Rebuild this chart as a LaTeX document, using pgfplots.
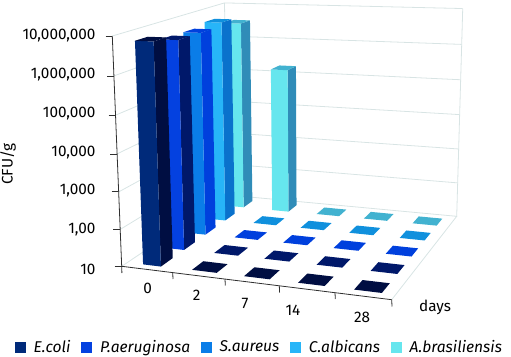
\documentclass[border=0pt]{standalone}
\usepackage{pgfplots}
\pgfplotsset{compat=1.18}
\usepackage{fontspec}
\setmainfont{Fira Sans}
\definecolor{ecF}{HTML}{002A7A}\definecolor{ecS}{HTML}{000E42}
\definecolor{paF}{HTML}{0441E0}\definecolor{paS}{HTML}{00186A}
\definecolor{saF}{HTML}{0A7DE8}\definecolor{saS}{HTML}{0040DD}
\definecolor{caF}{HTML}{27B5F8}\definecolor{caS}{HTML}{0A72CC}\definecolor{caT}{HTML}{1090DD}
\definecolor{abF}{HTML}{66E6EE}\definecolor{abS}{HTML}{308CB8}\definecolor{abT}{HTML}{42B2D0}
\definecolor{gridc}{HTML}{D8E4E4}\definecolor{axc}{HTML}{303030}
% one bar: day index, series index, CFU/g, front, side, top colours
\newcommand\cfubar[6]{%
 \addplot[fill=#5,draw=none,forget plot] table[row sep=\\,
   x expr={PX((#1+.5)/5+\thisrow{s}*.036,(#2+.5)/5-.005+\thisrow{t}*.05,\thisrow{c})},
   y expr={PY((#1+.5)/5+\thisrow{s}*.036,(#2+.5)/5-.005+\thisrow{t}*.05,\thisrow{c})}]
   {s t c\\ 1 -1 10\\ 1 1 10\\ 1 1 #3\\ 1 -1 #3\\};
 \addplot[fill=#4,draw=none,forget plot] table[row sep=\\,
   x expr={PX((#1+.5)/5+\thisrow{s}*.036,(#2+.5)/5-.005+\thisrow{t}*.05,\thisrow{c})},
   y expr={PY((#1+.5)/5+\thisrow{s}*.036,(#2+.5)/5-.005+\thisrow{t}*.05,\thisrow{c})}]
   {s t c\\ -1 -1 10\\ 1 -1 10\\ 1 -1 #3\\ -1 -1 #3\\};
 \addplot[fill=#6,draw=none,forget plot] table[row sep=\\,
   x expr={PX((#1+.5)/5+\thisrow{s}*.036,(#2+.5)/5-.005+\thisrow{t}*.05,\thisrow{c})},
   y expr={PY((#1+.5)/5+\thisrow{s}*.036,(#2+.5)/5-.005+\thisrow{t}*.05,\thisrow{c})}]
   {s t c\\ -1 -1 #3\\ 1 -1 #3\\ 1 1 #3\\ -1 1 #3\\};
}
% a bar at the floor value: its top alone, drawn a little larger
\newcommand\cfutile[4]{%
 \addplot[fill=#4,draw=none,forget plot] table[row sep=\\,
   x expr={PX((#1+.5)/5+.005+\thisrow{s}*.048,(#2+.5)/5+\thisrow{t}*.05,\thisrow{c})},
   y expr={PY((#1+.5)/5+.005+\thisrow{s}*.048,(#2+.5)/5+\thisrow{t}*.05,\thisrow{c})}]
   {s t c\\ -1 -1 #3\\ 1 -1 #3\\ 1 1 #3\\ -1 1 #3\\};
}
% wall/floor line
\newcommand\wline[2]{%
 \addplot[#1,forget plot] table[row sep=\\,
   x expr={PX(\thisrow{u},\thisrow{v},\thisrow{c})},
   y expr={PY(\thisrow{u},\thisrow{v},\thisrow{c})}] {u v c\\ #2};
}
\begin{document}
\begin{tikzpicture}[x=1pt,y=1pt]
\path[use as bounding box] (0,0) rectangle (511,356);
\begin{axis}[at={(0,0)},anchor=south west,
  width=511pt,height=356pt,scale only axis,
  xmin=0,xmax=511,ymin=0,ymax=356,y dir=reverse,
  hide axis,clip=false,
  declare function={
    WW(\u,\v,\c)=1-0.09227*\u+0.20681*\v-0.046*(log10(\c)-1)/6;
    PX(\u,\v,\c)=(233.86*\u+153.45*\v-14.57*(log10(\c)-1)/6+121.7)/WW(\u,\v,\c);
    PY(\u,\v,\c)=(5.75*\u-30.97*\v-231.96*(log10(\c)-1)/6+266.3)/WW(\u,\v,\c);
  },
  font=\fontsize{15.3}{17}\selectfont,
  legend style={at={(axis cs:14.7,347)},anchor=west,draw=none,fill=none,
    legend columns=5,font=\fontsize{15.6}{18}\selectfont\itshape,
    inner sep=0pt,outer sep=0pt,
    /tikz/every odd column/.append style={column sep=6pt},
    /tikz/every even column/.append style={column sep=8.6pt}},
  legend image code/.code={\fill[#1] (0pt,-5.5pt) rectangle (11pt,5.5pt);},
]
\addlegendimage{fill=ecF,draw=none}\addlegendentry{E.coli}
\addlegendimage{fill=paF,draw=none}\addlegendentry{P.aeruginosa}
\addlegendimage{fill=saF,draw=none}\addlegendentry{S.aureus}
\addlegendimage{fill=caF,draw=none}\addlegendentry{C.albicans}
\addlegendimage{fill=abF,draw=none}\addlegendentry{A.brasiliensis}

% walls
\foreach \c in {100,1000,10000,100000,1000000,10000000}{
  \edef\temp{\noexpand\wline{gridc,line width=.8pt}{0 0 \c\noexpand\\ 0 1 \c\noexpand\\ 1 1 \c\noexpand\\}}\temp
}
\wline{gridc,line width=.8pt}{0 0 10\\ 0 1 10\\ 1 1 10\\ 1 0 10\\}
\wline{gridc,line width=.8pt}{1 1 10\\ 1 1 10000000\\}
\wline{gridc,line width=.8pt}{0 1 10\\ 0 1 10000000\\}

% axes
\wline{axc,line width=.8pt}{0 0 10\\ 0 0 10000000\\}
\wline{axc,line width=.8pt}{0 0 10\\ 1 0 10\\}

% bars, back to front: day index, series index, value, colours
\cfutile{4}{4}{10}{abT}
\cfutile{3}{4}{10}{abT}
\cfutile{2}{4}{10}{abT}
\cfubar{1}{4}{175000}{abF}{abS}{abT}
\cfubar{0}{4}{3550000}{abF}{abS}{abT}
\cfutile{4}{3}{10}{caT}
\cfutile{3}{3}{10}{caT}
\cfutile{2}{3}{10}{caT}
\cfutile{1}{3}{10}{caT}
\cfubar{0}{3}{5800000}{caF}{caS}{caT}
\cfutile{4}{2}{10}{saS}
\cfutile{3}{2}{10}{saS}
\cfutile{2}{2}{10}{saS}
\cfutile{1}{2}{10}{saS}
\cfubar{0}{2}{4700000}{saF}{saS}{saS}
\cfutile{4}{1}{10}{paS}
\cfutile{3}{1}{10}{paS}
\cfutile{2}{1}{10}{paS}
\cfutile{1}{1}{10}{paS}
\cfubar{0}{1}{4800000}{paF}{paS}{paS}
\cfutile{4}{0}{10}{ecS}
\cfutile{3}{0}{10}{ecS}
\cfutile{2}{0}{10}{ecS}
\cfutile{1}{0}{10}{ecS}
\cfubar{0}{0}{7100000}{ecF}{ecS}{ecS}

% tick marks
\addplot[axc,line width=.8pt,forget plot] coordinates {(105.5,36) (112.3,36)};
\addplot[axc,line width=.8pt,forget plot] coordinates {(107,76) (113.8,76)};
\addplot[axc,line width=.8pt,forget plot] coordinates {(108.5,115.5) (115.3,115.5)};
\addplot[axc,line width=.8pt,forget plot] coordinates {(110,154) (116.8,154)};
\addplot[axc,line width=.8pt,forget plot] coordinates {(111.5,191.5) (118.3,191.5)};
\addplot[axc,line width=.8pt,forget plot] coordinates {(113,229.5) (119.8,229.5)};
\addplot[axc,line width=.8pt,forget plot] coordinates {(114.5,266) (121.7,266)};
\addplot[axc,line width=.8pt,forget plot] coordinates {(121.7,266) (121.9,273)};
\addplot[axc,line width=.8pt,forget plot] coordinates {(172.7,272.5) (173,279)};
\addplot[axc,line width=.8pt,forget plot] coordinates {(225,279) (225.3,285.5)};
\addplot[axc,line width=.8pt,forget plot] coordinates {(279.3,286) (279.6,292.5)};
\addplot[axc,line width=.8pt,forget plot] coordinates {(335,292.5) (335.3,299)};
\addplot[axc,line width=.8pt,forget plot] coordinates {(391.7,299.7) (392,306.5)};

% labels
\node[anchor=east,inner sep=0pt] at (axis cs:95.7,36) {10,000,000};
\node[anchor=east,inner sep=0pt] at (axis cs:95.7,75) {1,000,000};
\node[anchor=east,inner sep=0pt] at (axis cs:95.7,114) {100,000};
\node[anchor=east,inner sep=0pt] at (axis cs:95.7,153) {10,000};
\node[anchor=east,inner sep=0pt] at (axis cs:95.7,191) {1,000};
\node[anchor=east,inner sep=0pt] at (axis cs:95.7,230) {1,00};
\node[anchor=east,inner sep=0pt] at (axis cs:95.7,269) {10};
\node[inner sep=0pt] at (axis cs:147.7,288.7) {0};
\node[inner sep=0pt] at (axis cs:196.7,295) {2};
\node[inner sep=0pt] at (axis cs:245,303) {7};
\node[inner sep=0pt] at (axis cs:293,310.3) {14};
\node[inner sep=0pt] at (axis cs:362,317) {28};
\node[inner sep=0pt] at (axis cs:435,307) {days};
\node[inner sep=0pt,rotate=90] at (axis cs:8,164) {CFU/g};
\end{axis}
\end{tikzpicture}
\end{document}
